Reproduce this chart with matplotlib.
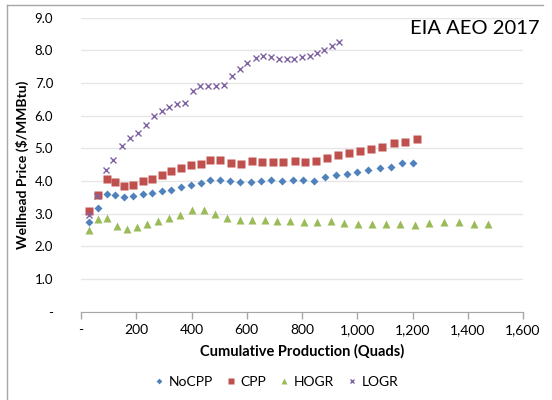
import matplotlib
matplotlib.use("Agg")
import matplotlib.pyplot as plt
from matplotlib.ticker import FuncFormatter, MultipleLocator
from matplotlib.lines import Line2D

plt.rcParams['font.family'] = ['Lato', 'DejaVu Sans']

# Cumulative production (quads) and wellhead price ($/MMBtu)
nocpp_x = [29, 60, 93, 124, 157, 189, 223, 258, 292, 326, 362, 397, 433, 467, 504, 539,
           576, 614, 650, 688, 727, 766, 804, 842, 882, 922, 962, 1000, 1040, 1081, 1121,
           1163, 1203]
nocpp_y = [2.75, 3.16, 3.61, 3.56, 3.51, 3.54, 3.61, 3.62, 3.69, 3.72, 3.81, 3.88, 3.93,
           4.03, 4.03, 4.00, 3.96, 3.98, 4.01, 4.03, 4.01, 4.03, 4.03, 4.01, 4.13, 4.19,
           4.23, 4.27, 4.33, 4.39, 4.44, 4.54, 4.54]

cpp_x = [29, 60, 93, 124, 157, 189, 223, 258, 292, 326, 362, 397, 433, 467, 504, 542,
         580, 618, 655, 694, 733, 773, 812, 850, 890, 930, 970, 1010, 1050, 1091, 1133,
         1174, 1215]
cpp_y = [3.09, 3.57, 4.07, 3.97, 3.86, 3.87, 4.00, 4.07, 4.20, 4.31, 4.40, 4.49, 4.53,
         4.63, 4.63, 4.55, 4.53, 4.61, 4.59, 4.59, 4.58, 4.60, 4.59, 4.61, 4.69, 4.80,
         4.86, 4.92, 4.97, 5.04, 5.15, 5.20, 5.28]

hogr_x = [29, 63, 95, 129, 165, 201, 240, 277, 317, 358, 400, 444, 486, 530, 575, 619,
          665, 711, 758, 806, 854, 904, 953, 1004, 1053, 1104, 1156, 1208, 1261, 1313,
          1367, 1421, 1475]
hogr_y = [2.50, 2.84, 2.87, 2.62, 2.53, 2.59, 2.69, 2.78, 2.86, 2.96, 3.10, 3.11, 3.00,
          2.87, 2.82, 2.80, 2.80, 2.78, 2.78, 2.75, 2.75, 2.78, 2.72, 2.67, 2.70, 2.70,
          2.68, 2.66, 2.72, 2.74, 2.74, 2.70, 2.67]

logr_x = [29, 59, 89, 117, 147, 176, 205, 234, 263, 292, 319, 347, 375, 404, 431, 460,
          489, 517, 546, 575, 602, 632, 659, 688, 716, 744, 771, 800, 828, 854, 881, 909,
          935]
logr_y = [2.96, 3.54, 4.34, 4.63, 5.08, 5.31, 5.48, 5.72, 6.00, 6.13, 6.26, 6.36, 6.40,
          6.75, 6.92, 6.92, 6.92, 6.93, 7.21, 7.44, 7.62, 7.77, 7.83, 7.80, 7.73, 7.73,
          7.75, 7.79, 7.82, 7.93, 8.00, 8.13, 8.26]

W, H = 552, 400
fig = plt.figure(figsize=(W / 100, H / 100), dpi=100)

# outer chart border (left and top edges visible)
fig.add_artist(Line2D([7 / W, 7 / W], [0, 1 - 5 / H], color='#a6a6a6', lw=1))
fig.add_artist(Line2D([7 / W, 543 / W], [1 - 5 / H, 1 - 5 / H], color='#a6a6a6', lw=1))

ax = fig.add_axes([81 / W, 1 - 311.7 / H, 442 / W, 294 / H])

ax.plot(nocpp_x, nocpp_y, 'D', color='#4f81bd', ms=4.2, mec='none', label='NoCPP', clip_on=False)
ax.plot(cpp_x, cpp_y, 's', color='#c0504d', ms=5.2, mec='none', label='CPP', clip_on=False)
ax.plot(hogr_x, hogr_y, '^', color='#9bbb59', ms=5.5, mec='none', label='HOGR', clip_on=False)
ax.plot(logr_x, logr_y, 'x', color='#8064a2', ms=4.2, mew=1.0, label='LOGR', clip_on=False)

ax.set_xlim(0, 1600)
ax.set_ylim(0, 9)
ax.xaxis.set_major_locator(MultipleLocator(200))
ax.yaxis.set_major_locator(MultipleLocator(1))
ax.xaxis.set_major_formatter(FuncFormatter(lambda v, p: '-' if v == 0 else f'{v:,.0f}'))
ax.yaxis.set_major_formatter(FuncFormatter(lambda v, p: '-' if v == 0 else f'{v:.1f}'))

ax.grid(axis='y', color='#e6e6e6', lw=1)
ax.set_axisbelow(True)
for s in ['top', 'right', 'left']:
    ax.spines[s].set_visible(False)
ax.spines['bottom'].set_color('#a6a6a6')
ax.tick_params(axis='x', colors='#a6a6a6', labelcolor='black', length=5, width=1,
               labelsize=10, pad=4)
ax.tick_params(axis='y', length=0, labelsize=9.5, pad=20)

ax.set_xlabel('Cumulative Production (Quads)', fontsize=10.5, fontweight='bold', labelpad=6)
ax.set_ylabel('Wellhead Price ($/MMBtu)', fontsize=10, fontweight='bold', labelpad=4)

fig.text(539 / W, 1 - 28 / H, 'EIA AEO 2017', fontsize=14.5, ha='right', va='center')

fig.legend(loc='center', bbox_to_anchor=(0.5, 1 - 382 / H), ncol=4, frameon=False,
           fontsize=10, handletextpad=0.3, columnspacing=0.9, handlelength=0.8,
           markerscale=0.7)

fig.savefig('out.png', dpi=100)
